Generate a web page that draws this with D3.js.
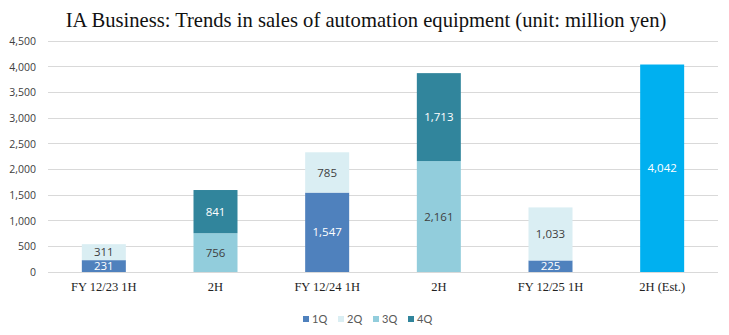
<!DOCTYPE html>
<html><head><meta charset="utf-8">
<script src="https://cdn.jsdelivr.net/npm/d3@7"></script>
<style>body{margin:0;background:#fff}</style>
</head><body>
<svg id="c" width="729" height="335"></svg>
<script>
const categories = ["FY 12/23 1H","2H","FY 12/24 1H","2H","FY 12/25 1H","2H (Est.)"];
const q1 = [231, 0, 1547, 0, 225, 0];
const q2 = [311, 0, 785, 0, 1033, 0];
const q3 = [0, 756, 0, 2161, 0, 0];
const q4 = [0, 841, 0, 1713, 0, 0];
const est = [0, 0, 0, 0, 0, 4042];
const seriesNames = ["1Q","2Q","3Q","4Q","Est"];
const legendNames = ["1Q","2Q","3Q","4Q"];
const yTicks = [0,500,1000,1500,2000,2500,3000,3500,4000,4500];

const colors = {"1Q":"#4f81bd","2Q":"#daeef3","3Q":"#92cddc","4Q":"#31859c","Est":"#00b0f0"};
const labelColor = {"1Q":"#fff","2Q":"#404040","3Q":"#404040","4Q":"#fff","Est":"#fff"};

const svg = d3.select("#c");
const table = categories.map((c,i)=>({i, "1Q":q1[i],"2Q":q2[i],"3Q":q3[i],"4Q":q4[i],"Est":est[i]}));
const x = d3.scaleBand().domain(d3.range(categories.length)).range([48,718]).paddingInner(0.606).paddingOuter(0.303);
const y = d3.scaleLinear().domain([0,4500]).range([272,41]);

// gridlines
svg.append("g").selectAll("line").data(yTicks).join("line")
  .attr("x1",48).attr("x2",718).attr("y1",d=>y(d)).attr("y2",d=>y(d))
  .attr("stroke","#d9d9d9").attr("stroke-width",1).attr("shape-rendering","crispEdges");

// y axis labels
const yAxis = d3.axisLeft(y).tickValues(yTicks).tickFormat(d3.format(",")).tickSize(0).tickPadding(0);
const ya = svg.append("g").attr("transform","translate(36,0)").call(yAxis);
ya.select(".domain").remove();
ya.selectAll("text").attr("font-family","'Open Sans', sans-serif").attr("font-size",10.5).attr("fill","#404040");

// x axis labels
const xAxis = d3.axisBottom(x).tickFormat(i=>categories[i]).tickSize(0).tickPadding(0);
const xa = svg.append("g").attr("transform","translate(0,282)").call(xAxis);
xa.select(".domain").remove();
xa.selectAll("text").attr("font-family","'Liberation Serif', serif").attr("font-size",12.5).attr("fill","#222");

// stacked bars
const stack = d3.stack().keys(seriesNames)(table);
const g = svg.append("g");
stack.forEach(s=>{
  const key = s.key;
  const segs = s.filter(d=>d[1]-d[0]>0);
  g.append("g").selectAll("rect").data(segs).join("rect")
    .attr("x",d=>x(d.data.i)).attr("width",x.bandwidth())
    .attr("y",d=>y(d[1])).attr("height",d=>y(d[0])-y(d[1]))
    .attr("fill",colors[key]);
  g.append("g").selectAll("text").data(segs).join("text")
    .attr("x",d=>x(d.data.i)+x.bandwidth()/2)
    .attr("y",d=>(y(d[0])+y(d[1]))/2)
    .attr("dy","0.36em")
    .attr("text-anchor","middle")
    .attr("font-family","'Open Sans', sans-serif").attr("font-size",11.5)
    .attr("fill",labelColor[key])
    .text(d=>d3.format(",")(d[1]-d[0]));
});

// title
svg.append("text").attr("x",366).attr("y",27).attr("text-anchor","middle")
  .attr("font-family","'Liberation Serif', serif").attr("font-size",20.6).attr("fill","#111")
  .text("IA Business: Trends in sales of automation equipment (unit: million yen)");

// legend
const lg = svg.append("g").attr("transform","translate(303,319)");
legendNames.forEach((n,k)=>{
  const it = lg.append("g").attr("transform",`translate(${k*35},0)`);
  it.append("rect").attr("x",0).attr("y",-3).attr("width",6).attr("height",6).attr("fill",colors[n]);
  it.append("text").attr("x",9).attr("y",0).attr("dy","0.36em")
    .attr("font-family","'Lato', sans-serif").attr("font-size",11).attr("fill","#595959").text(n);
});
</script>
</body></html>
